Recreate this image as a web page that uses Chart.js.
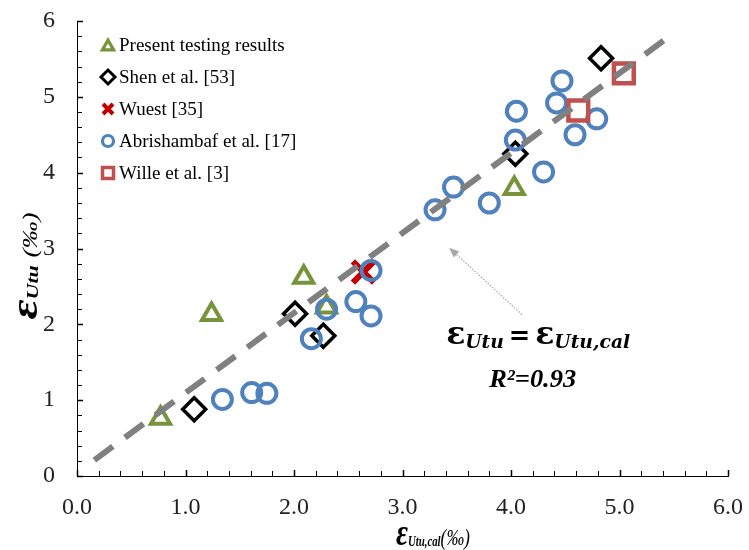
<!DOCTYPE html>
<html><head><meta charset="utf-8">
<script src="https://cdn.jsdelivr.net/npm/chart.js@4.4.0/dist/chart.umd.min.js"></script>
<style>html,body{margin:0;padding:0;background:#fff}#wrap{width:749px;height:550px}</style>
</head><body><div id="wrap"><canvas id="c" width="749" height="550"></canvas></div>
<script>
// ---- data ----
const xTickValues = [0, 1, 2, 3, 4, 5, 6];
const yTickValues = [0, 1, 2, 3, 4, 5, 6];
const seriesNames = ["Present testing results", "Shen et al. [53]", "Wuest [35]", "Abrishambaf et al. [17]", "Wille et al. [3]"];
const presentX = [0.77, 1.24, 2.09, 2.30, 4.03];
const presentY = [0.76, 2.13, 2.62, 2.23, 3.79];
const shenX = [1.08, 2.01, 2.27, 4.04, 4.83];
const shenY = [0.88, 2.14, 1.85, 4.25, 5.51];
const wuestX = [2.64];
const wuestY = [2.69];
const abriX = [1.34, 1.61, 1.75, 2.16, 2.30, 2.57, 2.71, 2.71, 3.30, 3.47, 3.80, 4.30, 4.04, 4.05, 4.42, 4.47, 4.59, 4.79];
const abriY = [1.01, 1.10, 1.09, 1.81, 2.20, 2.30, 2.11, 2.71, 3.51, 3.81, 3.60, 4.01, 4.43, 4.81, 4.92, 5.21, 4.50, 4.71];
const willeX = [4.62, 5.04];
const willeY = [4.82, 5.31];
const lineX = [0.16, 5.50];
const lineY = [0.21, 5.84];
const arrowFrom = [4.10, 2.13];
const arrowTo = [3.43, 3.01];
const eqPos = [4.25, 1.74];
const r2Pos = [4.20, 1.17];
const r2Text = "R²=0.93";

const pts = (xs, ys) => xs.map((x, i) => ({ x: x, y: ys[i] }));

const GREEN = '#77933C', BLUE = '#4F81BD', RED = '#C0504D', DRED = '#C00000', GRAY = '#808080';

function drawRich(ctx, parts, x, y, targetW) {
  let w = 0;
  parts.forEach(p => { ctx.font = p.f; p.w = ctx.measureText(p.t).width; w += p.w + (p.sp || 0); });
  const sx = targetW ? targetW / w : 1;
  ctx.save();
  ctx.translate(x, y);
  ctx.scale(sx, 1);
  ctx.textAlign = 'left'; ctx.textBaseline = 'alphabetic';
  let cx = -w / 2;
  parts.forEach(p => { ctx.font = p.f; ctx.fillStyle = p.c || '#000'; ctx.fillText(p.t, cx, p.dy || 0); cx += p.w + (p.sp || 0); });
  ctx.restore();
}

function legendMarker(ctx, kind, x, y) {
  ctx.save();
  ctx.beginPath();
  if (kind === 0) {
    const r = 6.5; const cy = y + r / 4;
    ctx.moveTo(x, cy - r);
    ctx.lineTo(x + r * Math.sin(2 * Math.PI / 3), cy - r * Math.cos(2 * Math.PI / 3));
    ctx.lineTo(x + r * Math.sin(4 * Math.PI / 3), cy - r * Math.cos(4 * Math.PI / 3));
    ctx.closePath(); ctx.strokeStyle = GREEN; ctx.lineWidth = 3.2; ctx.stroke();
  } else if (kind === 1) {
    const r = 7;
    ctx.moveTo(x - r, y); ctx.lineTo(x, y - r); ctx.lineTo(x + r, y); ctx.lineTo(x, y + r); ctx.closePath();
    ctx.strokeStyle = '#000'; ctx.lineWidth = 3; ctx.stroke();
  } else if (kind === 2) {
    const r = 5;
    ctx.moveTo(x - r, y - r); ctx.lineTo(x + r, y + r); ctx.moveTo(x + r, y - r); ctx.lineTo(x - r, y + r);
    ctx.strokeStyle = DRED; ctx.lineWidth = 4; ctx.stroke();
  } else if (kind === 3) {
    ctx.arc(x, y, 5.5, 0, Math.PI * 2); ctx.strokeStyle = BLUE; ctx.lineWidth = 3.2; ctx.stroke();
  } else {
    ctx.rect(x - 5.5, y - 5.5, 11, 11); ctx.strokeStyle = RED; ctx.lineWidth = 3.5; ctx.stroke();
  }
  ctx.restore();
}

const extras = {
  id: 'extras',
  afterDraw(chart) {
    const ctx = chart.ctx;
    const xs = chart.scales.x, ys = chart.scales.y;
    const ca = chart.chartArea;
    // inside tick marks
    ctx.save();
    ctx.strokeStyle = '#000';
    for (let i = 0; i <= 30; i++) {
      const v = i * 0.2;
      const major = i % 5 === 0;
      const px = Math.round(xs.getPixelForValue(v)) + 0.5;
      ctx.lineWidth = major ? 1.5 : 1;
      ctx.beginPath(); ctx.moveTo(px, ca.bottom); ctx.lineTo(px, ca.bottom - (major ? 6 : 5)); ctx.stroke();
      const py = Math.round(ys.getPixelForValue(v)) + 0.5;
      ctx.beginPath(); ctx.moveTo(ca.left, py); ctx.lineTo(ca.left + (major ? 6 : 5), py); ctx.stroke();
    }
    ctx.restore();

    // legend
    ctx.save();
    ctx.font = '19px "Liberation Serif", "Times New Roman", serif';
    ctx.fillStyle = '#000';
    ctx.textBaseline = 'middle'; ctx.textAlign = 'left';
    seriesNames.forEach((n, i) => {
      const yy = 45 + 32 * i;
      legendMarker(ctx, i, 108, yy);
      ctx.fillText(n, 119, yy + 1);
    });
    ctx.restore();

    // arrow
    const ax0 = xs.getPixelForValue(arrowFrom[0]), ay0 = ys.getPixelForValue(arrowFrom[1]);
    const ax1 = xs.getPixelForValue(arrowTo[0]), ay1 = ys.getPixelForValue(arrowTo[1]);
    const ang = Math.atan2(ay1 - ay0, ax1 - ax0);
    ctx.save();
    ctx.strokeStyle = '#A6A6A6'; ctx.lineWidth = 1.2; ctx.setLineDash([1.5, 1.5]);
    ctx.beginPath(); ctx.moveTo(ax0, ay0); ctx.lineTo(ax1 - 8 * Math.cos(ang), ay1 - 8 * Math.sin(ang)); ctx.stroke();
    ctx.setLineDash([]);
    ctx.fillStyle = '#A6A6A6';
    ctx.beginPath();
    ctx.moveTo(ax1, ay1);
    ctx.lineTo(ax1 - 10 * Math.cos(ang) + 4 * Math.sin(ang), ay1 - 10 * Math.sin(ang) - 4 * Math.cos(ang));
    ctx.lineTo(ax1 - 10 * Math.cos(ang) - 4 * Math.sin(ang), ay1 - 10 * Math.sin(ang) + 4 * Math.cos(ang));
    ctx.closePath(); ctx.fill();
    ctx.restore();

    // equation
    const epsF = 'bold 32px "DejaVu Serif", serif';
    const subF = 'bold italic 19px "DejaVu Serif", serif';
    drawRich(ctx, [
      { t: 'ε', f: epsF },
      { t: 'Utu', f: subF, dy: 4, sp: 5 },
      { t: '=', f: 'bold 26px "DejaVu Serif", serif', sp: 5 },
      { t: 'ε', f: epsF },
      { t: 'Utu,cal', f: subF, dy: 4 }
    ], xs.getPixelForValue(eqPos[0]), ys.getPixelForValue(eqPos[1]), 184);
    drawRich(ctx, [
      { t: r2Text, f: 'bold italic 25px "Liberation Serif", serif' }
    ], xs.getPixelForValue(r2Pos[0]), ys.getPixelForValue(r2Pos[1]), 87);

    // x title
    drawRich(ctx, [
      { t: 'ε', f: 'bold italic 38px "Liberation Serif", serif' },
      { t: 'Utu,cal', f: 'bold italic 14px "Liberation Serif", serif', dy: 1 },
      { t: '(‰)', f: 'italic 23px "Liberation Serif", serif' }
    ], 433, 545, 74);
    // y title
    ctx.save();
    ctx.translate(37, 266);
    ctx.rotate(-Math.PI / 2);
    drawRich(ctx, [
      { t: 'ε', f: 'bold italic 38px "Liberation Serif", serif' },
      { t: 'Utu', f: 'bold italic 17px "Liberation Serif", serif', dy: 1, sp: 6 },
      { t: '(‰)', f: 'italic 21px "Liberation Serif", serif' }
    ], 0, 0, 107);
    ctx.restore();
  }
};

function zeroPad(s) { s.paddingTop = 0; s.paddingBottom = 0; s.paddingLeft = 0; s.paddingRight = 0; }

new Chart(document.getElementById('c'), {
  type: 'scatter',
  data: {
    datasets: [
      { label: 'fit', type: 'line', data: pts(lineX, lineY), borderColor: GRAY, borderWidth: 6, borderDash: [23, 15], pointRadius: 0, fill: false, order: 0 },
      { label: seriesNames[0], data: pts(presentX, presentY), pointStyle: 'triangle', radius: 11, borderColor: GREEN, backgroundColor: 'rgba(0,0,0,0)', borderWidth: 4, order: 5 },
      { label: seriesNames[1], data: pts(shenX, shenY), pointStyle: 'rectRot', radius: 11.5, borderColor: '#000', backgroundColor: 'rgba(0,0,0,0)', borderWidth: 3.5, order: 4 },
      { label: seriesNames[2], data: pts(wuestX, wuestY), pointStyle: 'crossRot', radius: 15, borderColor: DRED, backgroundColor: DRED, borderWidth: 6, order: 3 },
      { label: seriesNames[3], data: pts(abriX, abriY), pointStyle: 'circle', radius: 9.5, borderColor: BLUE, backgroundColor: 'rgba(0,0,0,0)', borderWidth: 4, order: 2 },
      { label: seriesNames[4], data: pts(willeX, willeY), pointStyle: 'rect', radius: 14, borderColor: RED, backgroundColor: 'rgba(0,0,0,0)', borderWidth: 4.5, order: 1 }
    ]
  },
  options: {
    responsive: false,
    animation: false,
    devicePixelRatio: 1,
    layout: { padding: { top: 13, right: 20, left: 0, bottom: 0 } },
    plugins: { legend: { display: false }, tooltip: { enabled: false } },
    scales: {
      x: {
        type: 'linear', min: 0, max: 6,
        afterBuildTicks: s => { s.ticks = xTickValues.map(v => ({ value: v })); },
        afterFit: s => { s.height = 74; zeroPad(s); },
        ticks: { callback: v => Number(v).toFixed(1), font: { family: '"Liberation Serif", serif', size: 24 }, color: '#222', padding: 17, maxRotation: 0 },
        grid: { display: false, drawTicks: false },
        border: { display: true, color: '#000', width: 1 }
      },
      y: {
        type: 'linear', min: 0, max: 6,
        afterBuildTicks: s => { s.ticks = yTickValues.map(v => ({ value: v })); },
        afterFit: s => { s.width = 77; zeroPad(s); },
        ticks: { callback: v => String(v), font: { family: '"Liberation Serif", serif', size: 24 }, color: '#222', padding: 22 },
        grid: { display: false, drawTicks: false },
        border: { display: true, color: '#000', width: 1 }
      }
    }
  },
  plugins: [extras]
});
</script></body></html>
